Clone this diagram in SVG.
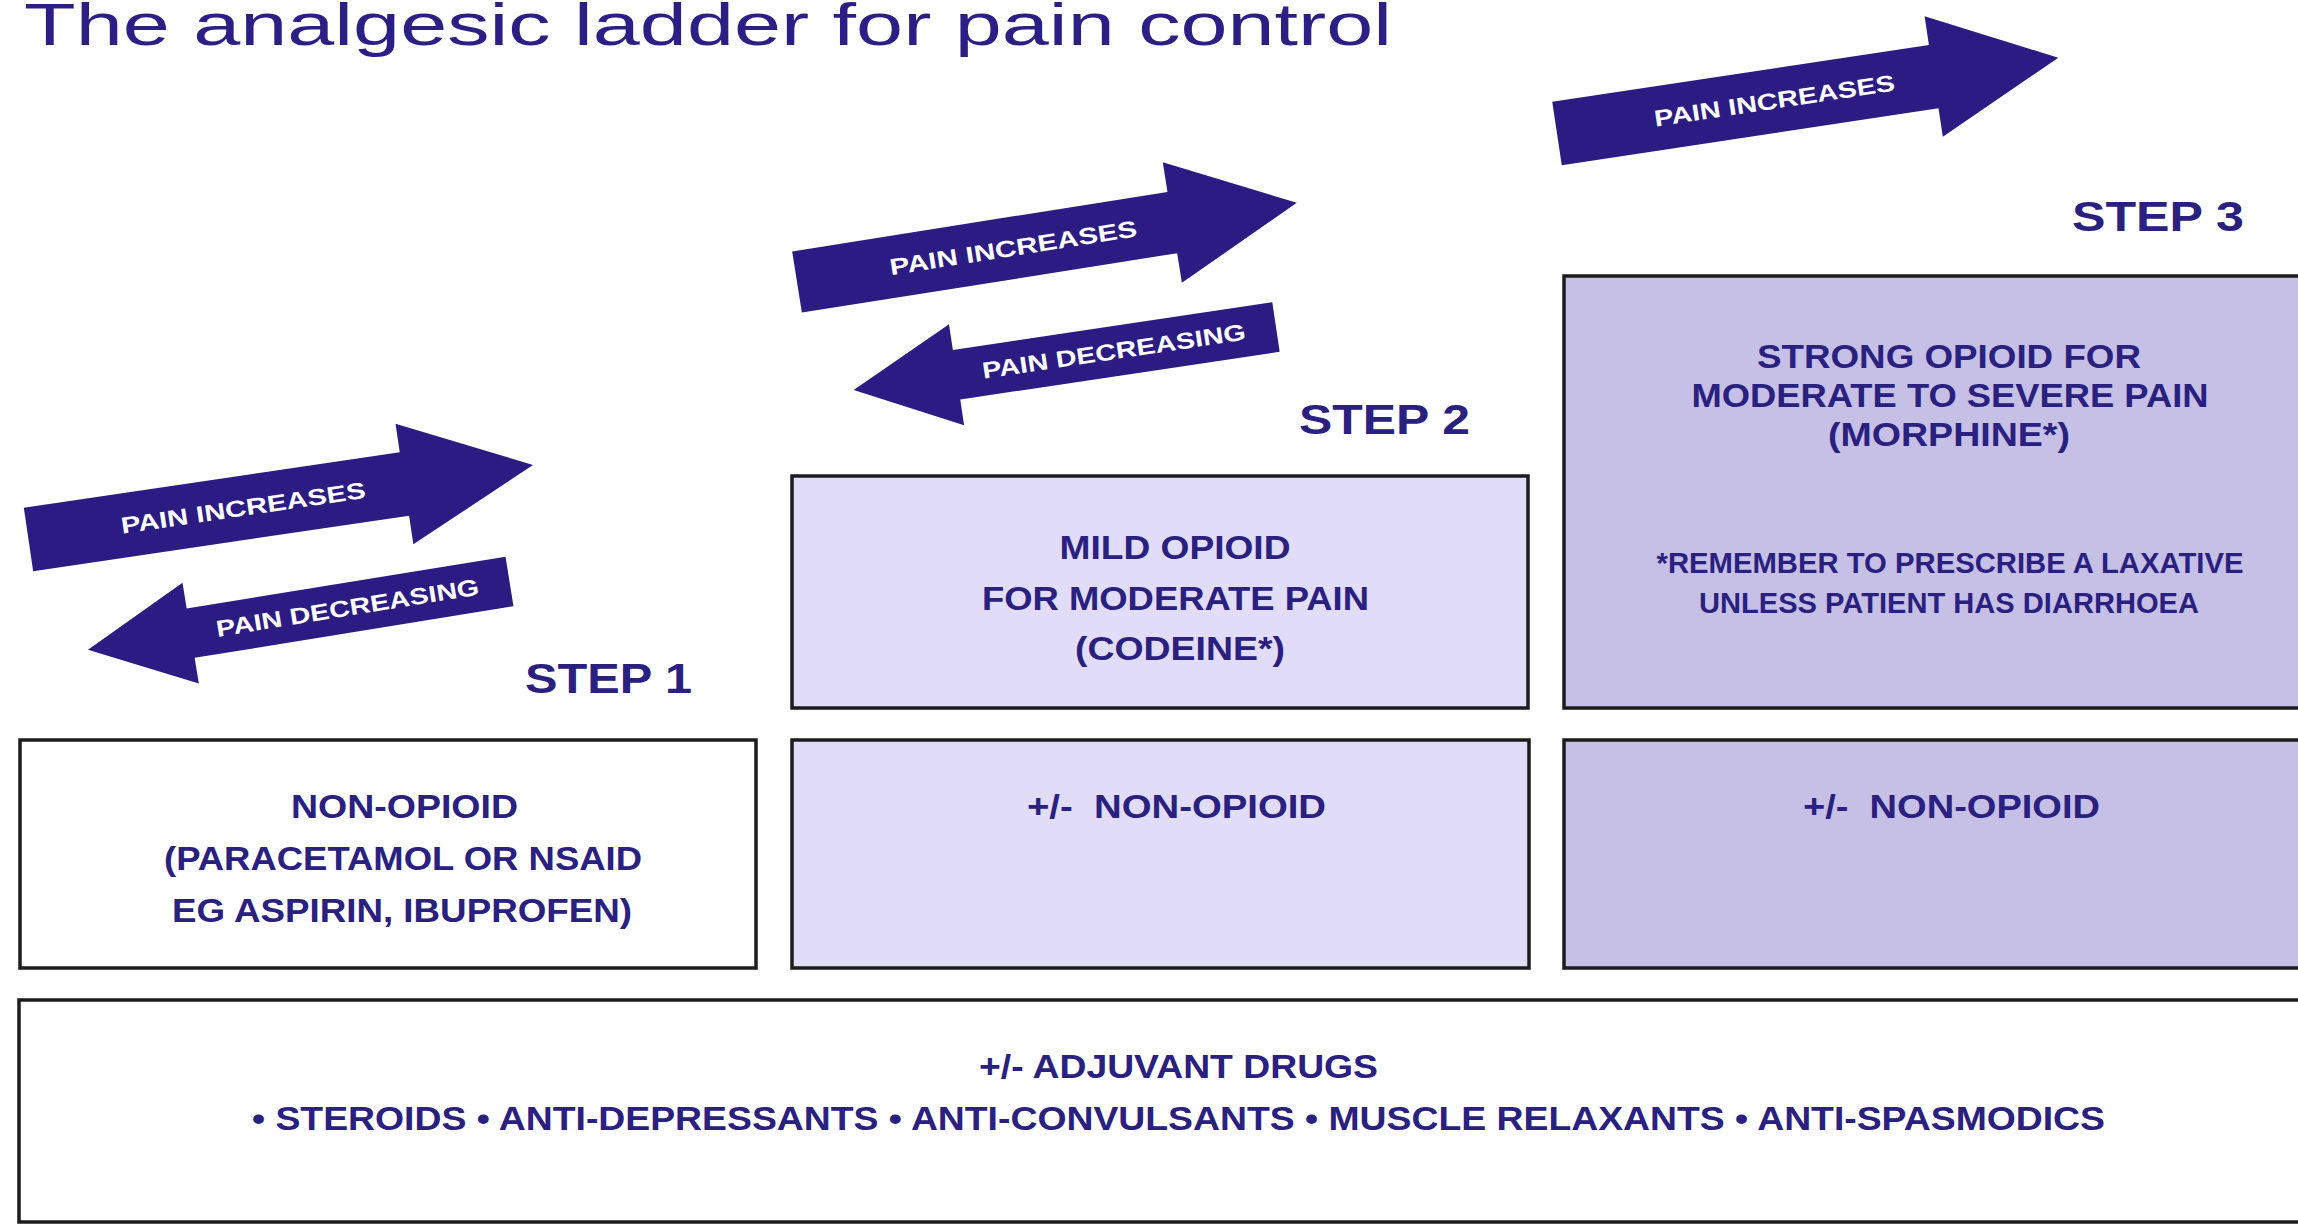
<svg xmlns="http://www.w3.org/2000/svg" width="2298" height="1225" viewBox="0 0 2298 1225">
<style>
.bg{fill:#ffffff}
.box{stroke:#1c1c1c;stroke-width:3.5}
.w{fill:#ffffff}
.l2{fill:#e1ddf8}
.l3{fill:#c6c0e6}
.arrow{fill:#2b1b82}
.t{font-family:"Liberation Sans",Arial,sans-serif;font-weight:bold;fill:#2a2080;text-anchor:middle}
.at{font-family:"Liberation Sans",Arial,sans-serif;font-weight:bold;fill:#ffffff;text-anchor:middle;font-size:23px}
.step{font-family:"Liberation Sans",Arial,sans-serif;font-weight:bold;fill:#2a2080;font-size:43px}
.title{font-family:"Liberation Sans",Arial,sans-serif;font-weight:normal;fill:#2b1f86;font-size:60px}
</style>
<rect class="bg" x="0" y="0" width="2298" height="1225"/>
<text class="title" x="24" y="45" textLength="1368" lengthAdjust="spacingAndGlyphs">The analgesic ladder for pain control</text>

<g id="connectors">
  <g id="arrow-step1-increase" transform="translate(28.5,539.5) rotate(-8.4)">
    <polygon class="arrow" points="0,-32 380,-32 380,-61 510,0 380,61 380,32 0,32"/>
    <text class="at" x="217" y="8" textLength="247" lengthAdjust="spacingAndGlyphs">PAIN INCREASES</text>
  </g>
  <g id="arrow-step1-decrease" transform="translate(509.5,581.5) rotate(170.8)">
    <polygon class="arrow" points="0,-25 323,-25 323,-51 427,0 323,51 323,25 0,25"/>
    <text class="at" x="164" y="8" transform="rotate(180,164,0)" textLength="266" lengthAdjust="spacingAndGlyphs">PAIN DECREASING</text>
  </g>
  <g id="arrow-step2-increase" transform="translate(797,282) rotate(-9)">
    <polygon class="arrow" points="0,-31 380,-31 380,-61 506,0 380,61 380,31 0,31"/>
    <text class="at" x="219" y="8" textLength="250" lengthAdjust="spacingAndGlyphs">PAIN INCREASES</text>
  </g>
  <g id="arrow-step2-decrease" transform="translate(1276,327) rotate(171.5)">
    <polygon class="arrow" points="0,-25 323,-25 323,-51 427,0 323,51 323,25 0,25"/>
    <text class="at" x="164" y="8" transform="rotate(180,164,0)" textLength="266" lengthAdjust="spacingAndGlyphs">PAIN DECREASING</text>
  </g>
  <g id="arrow-step3-increase" transform="translate(1557,133.5) rotate(-8.6)">
    <polygon class="arrow" points="0,-32 381,-32 381,-61 507,0 381,61 381,32 0,32"/>
    <text class="at" x="220" y="8" textLength="243" lengthAdjust="spacingAndGlyphs">PAIN INCREASES</text>
  </g>
</g>

<g id="step1-label"><text class="step" x="525" y="693" textLength="167" lengthAdjust="spacingAndGlyphs">STEP 1</text></g>
<g id="step2-label"><text class="step" x="1299" y="434" textLength="171" lengthAdjust="spacingAndGlyphs">STEP 2</text></g>
<g id="step3-label"><text class="step" x="2072" y="231" textLength="172" lengthAdjust="spacingAndGlyphs">STEP 3</text></g>

<g id="step1-nonopioid">
  <rect class="box w" x="20" y="740" width="736" height="228"/>
  <text class="t" font-size="33" x="404.5" y="818" textLength="227" lengthAdjust="spacingAndGlyphs">NON-OPIOID</text>
  <text class="t" font-size="33" x="403" y="870" textLength="478" lengthAdjust="spacingAndGlyphs">(PARACETAMOL OR NSAID</text>
  <text class="t" font-size="33" x="402" y="922" textLength="460" lengthAdjust="spacingAndGlyphs">EG ASPIRIN, IBUPROFEN)</text>
</g>

<g id="step2-nonopioid">
  <rect class="box l2" x="792" y="740" width="737" height="228"/>
  <text class="t" font-size="33" x="1176.5" y="818" textLength="299" lengthAdjust="spacingAndGlyphs" xml:space="preserve">+/-  NON-OPIOID</text>
</g>

<g id="step3-nonopioid">
  <rect class="box l3" x="1564" y="740" width="750" height="228"/>
  <text class="t" font-size="33" x="1951.5" y="818" textLength="297" lengthAdjust="spacingAndGlyphs" xml:space="preserve">+/-  NON-OPIOID</text>
</g>

<g id="step2-mild-opioid">
  <rect class="box l2" x="792" y="476" width="736" height="232"/>
  <text class="t" font-size="33" x="1175" y="559" textLength="231" lengthAdjust="spacingAndGlyphs">MILD OPIOID</text>
  <text class="t" font-size="33" x="1175.5" y="610" textLength="387" lengthAdjust="spacingAndGlyphs">FOR MODERATE PAIN</text>
  <text class="t" font-size="33" x="1180" y="660" textLength="210" lengthAdjust="spacingAndGlyphs">(CODEINE*)</text>
</g>

<g id="step3-strong-opioid">
  <rect class="box l3" x="1564" y="276" width="750" height="432"/>
  <text class="t" font-size="33" x="1949" y="368" textLength="384" lengthAdjust="spacingAndGlyphs">STRONG OPIOID FOR</text>
  <text class="t" font-size="33" x="1950" y="407" textLength="517" lengthAdjust="spacingAndGlyphs">MODERATE TO SEVERE PAIN</text>
  <text class="t" font-size="33" x="1949" y="446" textLength="242" lengthAdjust="spacingAndGlyphs">(MORPHINE*)</text>
  <text class="t" font-size="29" x="1950" y="573" textLength="587" lengthAdjust="spacingAndGlyphs">*REMEMBER TO PRESCRIBE A LAXATIVE</text>
  <text class="t" font-size="29" x="1949" y="613" textLength="500" lengthAdjust="spacingAndGlyphs">UNLESS PATIENT HAS DIARRHOEA</text>
</g>

<g id="adjuvant-drugs">
  <rect class="box w" x="19" y="1000" width="2295" height="222"/>
  <text class="t" font-size="33" x="1178.5" y="1078" textLength="399" lengthAdjust="spacingAndGlyphs">+/- ADJUVANT DRUGS</text>
  <text class="t" font-size="33" x="1178.5" y="1130" textLength="1853" lengthAdjust="spacingAndGlyphs">• STEROIDS • ANTI-DEPRESSANTS • ANTI-CONVULSANTS • MUSCLE RELAXANTS • ANTI-SPASMODICS</text>
</g>
</svg>
